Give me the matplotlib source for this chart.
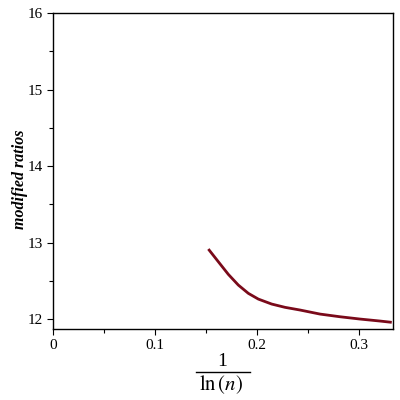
import matplotlib
matplotlib.use("Agg")
import matplotlib.pyplot as plt
from matplotlib.ticker import MultipleLocator

# data
inv_ln_n = [0.1523, 0.1621, 0.1719, 0.1817, 0.1915, 0.2013, 0.2144, 0.2275,
            0.2422, 0.2618, 0.2814, 0.3010, 0.3206, 0.3321]
ratios = [12.915, 12.749, 12.584, 12.444, 12.336, 12.261, 12.196, 12.153,
          12.118, 12.065, 12.030, 12.000, 11.974, 11.957]

x_ticks = [0, 0.1, 0.2, 0.3]
x_tick_labels = ["0", "0.1", "0.2", "0.3"]
y_ticks = [12, 13, 14, 15, 16]

plt.rcParams["font.family"] = ["Liberation Serif", "DejaVu Serif"]
plt.rcParams["mathtext.fontset"] = "stix"

fig = plt.figure(figsize=(4, 4), dpi=100)
ax = fig.add_axes([0.1325, 0.1775, 0.85, 0.79])

ax.plot(inv_ln_n, ratios, color="#7a0a1a", linewidth=2.0,
        solid_capstyle="butt", solid_joinstyle="round")

ax.set_xlim(0, 1 / 3)
ax.set_ylim(11.87, 16)
ax.set_xticks(x_ticks)
ax.set_xticklabels(x_tick_labels)
ax.set_yticks(y_ticks)
ax.xaxis.set_minor_locator(MultipleLocator(0.05))
ax.yaxis.set_minor_locator(MultipleLocator(0.5))
ax.tick_params(which="both", direction="out", labelsize=11, top=False, right=False, width=0.8)
ax.tick_params(which="major", length=4)
ax.tick_params(which="minor", length=3)
for s in ax.spines.values():
    s.set_linewidth(1.0)

# y label placed by hand so it sits where the reference has it
fig.text(20 / 400, 1 - 179 / 400, "modified ratios", fontsize=11.5, fontstyle="italic",
         fontweight="bold", rotation=90, ha="center", va="center")

# x label drawn as a fraction: 1 over ln(n)
fig.text(0.555, 1 - 362 / 400, "1", fontsize=14, ha="center", va="center")
fig.add_artist(plt.Line2D([196 / 400, 250 / 400], [1 - 372 / 400, 1 - 372 / 400],
                          color="black", linewidth=1.0))
fig.text(0.552, 1 - 385 / 400, r"$\mathrm{ln}\,(\mathbf{\mathit{n}})$", fontsize=15,
         ha="center", va="center")

fig.savefig("out.png", dpi=100)
